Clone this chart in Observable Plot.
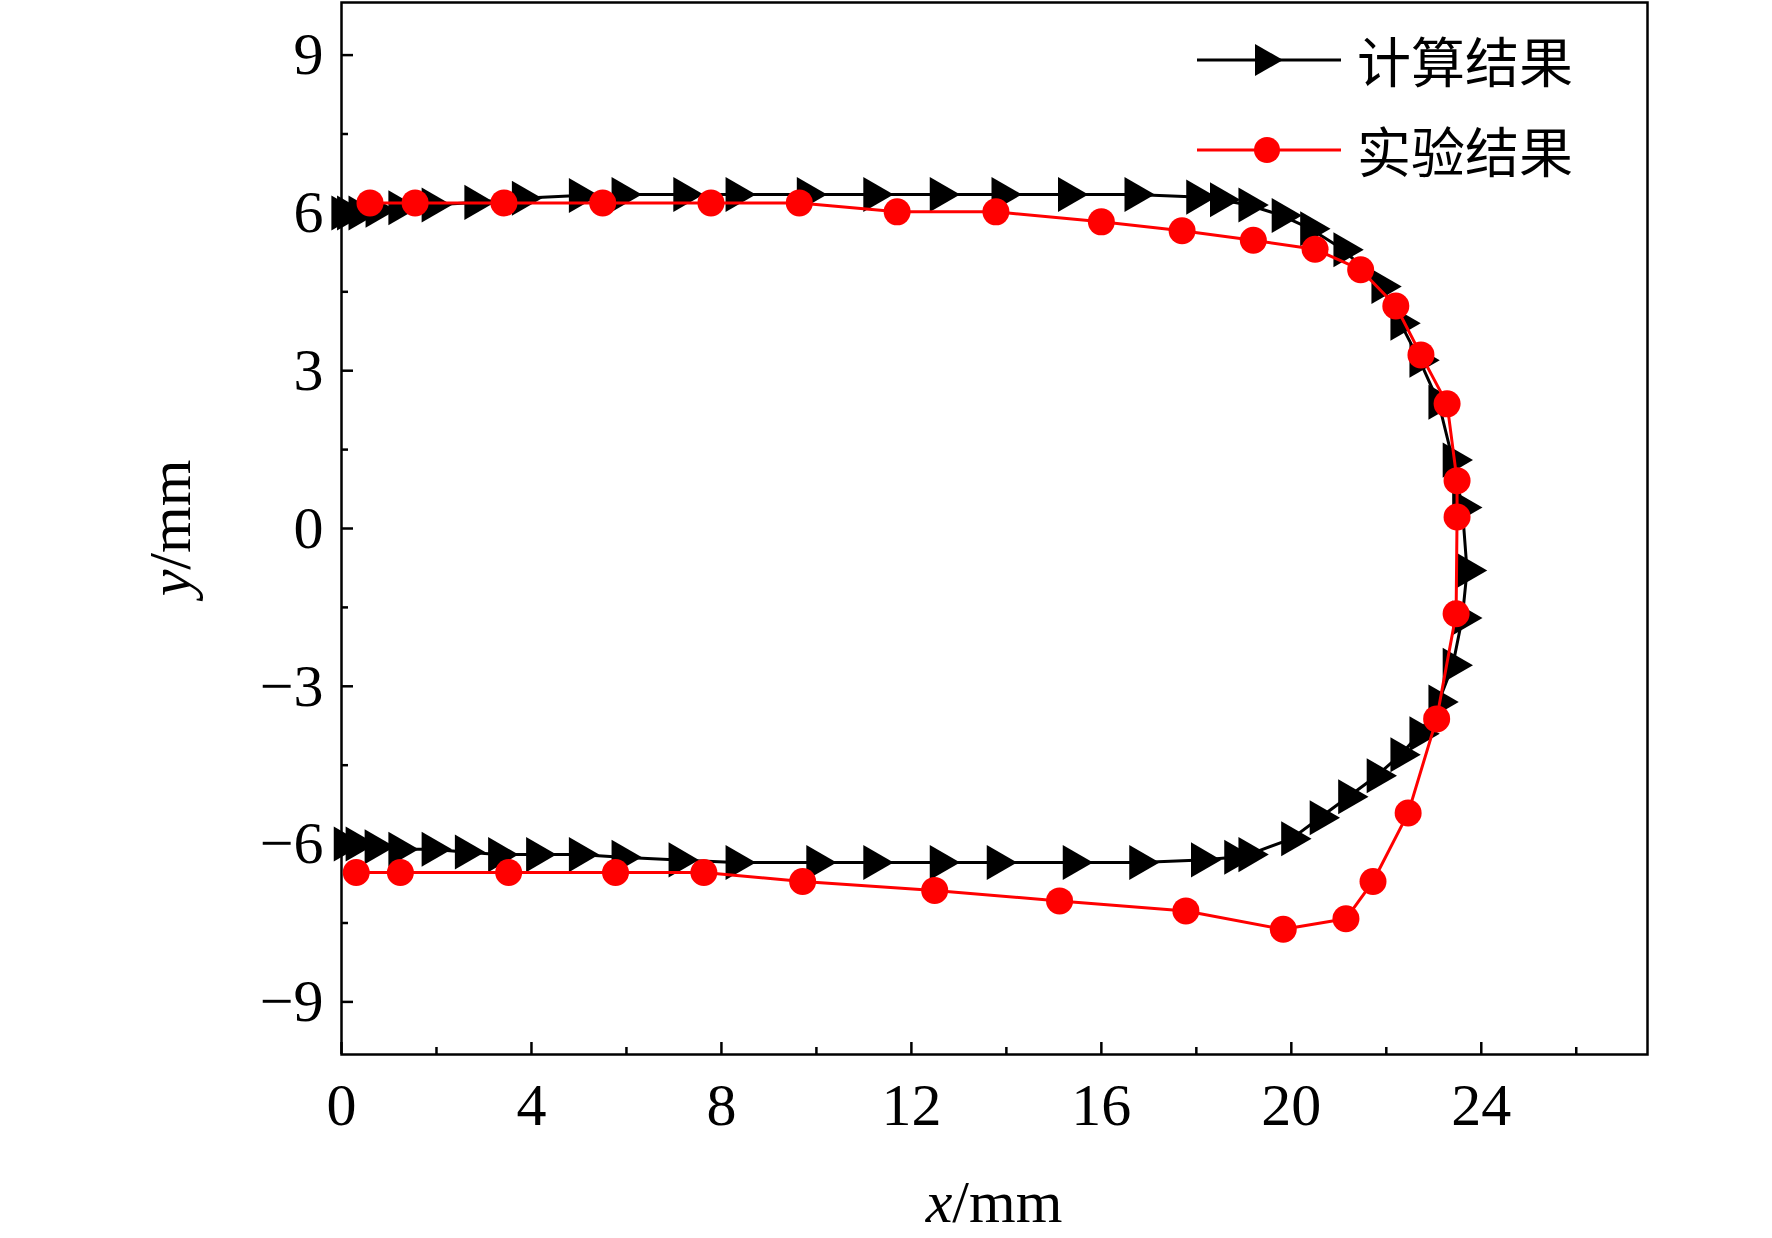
<!DOCTYPE html>
<html><head><meta charset="utf-8">
<script src="https://cdn.jsdelivr.net/npm/d3@7"></script>
<script src="https://cdn.jsdelivr.net/npm/@observablehq/plot@0.6"></script>
<style>body{margin:0;background:#fff}#wrap{position:relative;width:1772px;height:1238px}
#leg{position:absolute;left:1195px;top:15px;font-family:"Noto Sans CJK SC";font-size:54px;line-height:90px}
#leg div{display:flex;align-items:center}</style>
</head><body><div id="wrap"><div id="leg"></div></div>
<script>
const calcX=[0,0.12,0.36,0.72,1.2,1.9,2.8,3.8,5.0,5.9,7.2,8.3,9.8,11.2,12.6,13.9,15.3,16.7,18.0,18.5,19.1,19.8,20.4,21.1,21.9,22.3,22.7,23.1,23.4,23.6,23.7,23.6,23.4,23.1,22.7,22.3,21.8,21.2,20.6,20.0,19.1,18.8,18.1,16.8,15.4,13.8,12.6,11.2,10.0,8.3,7.1,5.9,5.0,4.1,3.3,2.6,1.9,1.2,0.7,0.3,0.05];
const calcY=[6.0,6.0,6.0,6.05,6.1,6.15,6.2,6.28,6.33,6.35,6.35,6.35,6.35,6.35,6.35,6.35,6.35,6.35,6.3,6.25,6.15,5.95,5.7,5.3,4.6,3.9,3.2,2.4,1.3,0.4,-0.8,-1.7,-2.6,-3.3,-3.9,-4.3,-4.7,-5.1,-5.5,-5.9,-6.2,-6.25,-6.3,-6.35,-6.35,-6.35,-6.35,-6.35,-6.35,-6.35,-6.3,-6.25,-6.2,-6.2,-6.2,-6.15,-6.1,-6.1,-6.05,-6.0,-6.0];
const expX=[0.6,1.55,3.42,5.5,7.78,9.64,11.7,13.78,16.0,17.7,19.2,20.5,21.46,22.2,22.73,23.28,23.49,23.49,23.47,23.06,22.46,21.72,21.15,19.83,17.78,15.12,12.49,9.71,7.63,5.77,3.52,1.24,0.31];
const expY=[6.19,6.19,6.19,6.19,6.19,6.19,6.02,6.02,5.83,5.66,5.48,5.31,4.92,4.23,3.3,2.37,0.91,0.22,-1.62,-3.62,-5.41,-6.71,-7.42,-7.62,-7.27,-7.08,-6.88,-6.71,-6.54,-6.54,-6.54,-6.54,-6.54];
const xTicks=[0,4,8,12,16,20,24], xMinor=[2,6,10,14,18,22,26];
const yTicks=[-9,-6,-3,0,3,6,9], yMinor=[-7.5,-4.5,-1.5,1.5,4.5,7.5];
const legLabels=["计算结果","实验结果"];
const calc=calcX.map((x,i)=>({x,y:calcY[i]})), exp=expX.map((x,i)=>({x,y:expY[i]}));
const tf=d=>d<0?"\u2212"+(-d):String(d);
const chart=Plot.plot({width:1772,height:1238,marginLeft:341,marginRight:125,marginTop:2,marginBottom:184,
 style:{fontFamily:"Liberation Serif",fontSize:"60px",background:"#fff",color:"#000"},
 x:{domain:[0,27.5]},y:{domain:[-10,10]},
 marks:[
  Plot.axisX({ticks:xTicks,tickSize:-12,tickFormat:tf,tickPadding:40,label:null,strokeWidth:2.5}),
  Plot.axisX({ticks:xMinor,tickSize:-7,text:null,label:null,strokeWidth:2.5}),
  Plot.axisY({ticks:yTicks,tickSize:-12,tickFormat:tf,tickPadding:30,label:null,strokeWidth:2.5}),
  Plot.axisY({ticks:yMinor,tickSize:-7,text:null,label:null,strokeWidth:2.5}),
  Plot.frame({stroke:"#000",strokeWidth:2.5}),
  Plot.line(calc,{x:"x",y:"y",stroke:"#000",strokeWidth:3}),
  Plot.dot(calc,{x:"x",y:"y",symbol:"triangle",rotate:90,r:13,fill:"#000"}),
  Plot.line(exp,{x:"x",y:"y",stroke:"#f00",strokeWidth:3}),
  Plot.dot(exp,{x:"x",y:"y",r:13.5,fill:"#f00"})
 ]});
document.getElementById("wrap").prepend(chart);
const svg=d3.select(chart);
svg.append("text").attr("x",(341+1647)/2).attr("y",1222).attr("text-anchor","middle").attr("font-size",60).attr("font-family","Liberation Serif")
 .html('<tspan font-style="italic">x</tspan>/mm');
svg.append("text").attr("transform","translate(190,528) rotate(-90)").attr("text-anchor","middle").attr("font-size",60).attr("font-family","Liberation Serif")
 .html('<tspan font-style="italic">y</tspan>/mm');
const leg=document.getElementById("leg");
leg.innerHTML=
 `<div><svg width="150" height="60"><line x1="2" x2="146" y1="30" y2="30" stroke="#000" stroke-width="3"/><path d="M60,14 L88,30 L60,46Z" fill="#000"/></svg><span style="margin-left:12px">${legLabels[0]}</span></div>`+
 `<div><svg width="150" height="60"><line x1="2" x2="146" y1="30" y2="30" stroke="#f00" stroke-width="3"/><circle cx="72" cy="30" r="13" fill="#f00"/></svg><span style="margin-left:12px">${legLabels[1]}</span></div>`;
</script></body></html>
